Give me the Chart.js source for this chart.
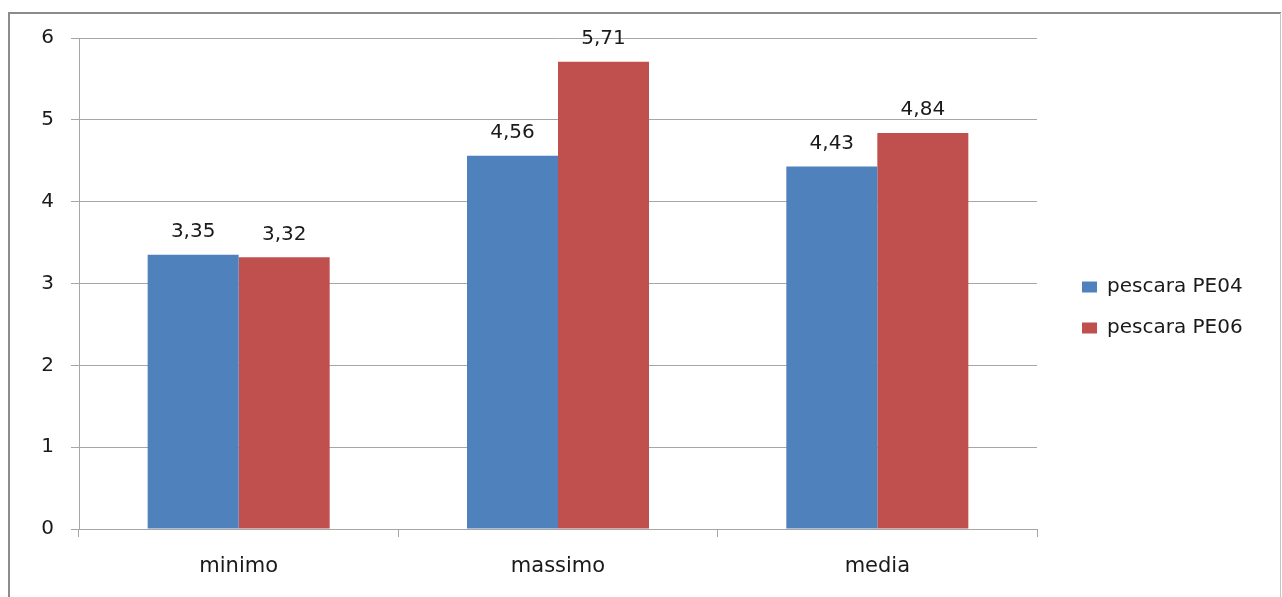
<!DOCTYPE html>
<html>
<head>
<meta charset="utf-8">
<script src="https://cdn.jsdelivr.net/npm/chart.js@4"></script>
<style>
  html, body { margin: 0; padding: 0; background: #fff; overflow: hidden; }
  #wrap { position: relative; width: 1282px; height: 597px; }
</style>
</head>
<body>
<div id="wrap"><canvas id="chart" width="1282" height="597"></canvas></div>
<script>
// data
const categories = ["minimo", "massimo", "media"];
const seriesNames = ["pescara PE04", "pescara PE06"];
const pe04 = [3.35, 4.56, 4.43];
const pe06 = [3.32, 5.71, 4.84];
const yMin = 0, yMax = 6, yStep = 1;

const textColor = "#1a1a1a";
const gridColor = "#a6a6a6";
const fontFamily = '"DejaVu Sans", sans-serif';

// frame around the whole chart
const framePlugin = {
    id: "frame",
    beforeDraw(chart) {
        const c = chart.ctx;
        c.save();
        c.lineWidth = 2;
        c.strokeStyle = "#8c8c8c";
        c.beginPath();
        c.moveTo(9, 597);
        c.lineTo(9, 13);
        c.lineTo(1281, 13);
        c.stroke();
        c.strokeStyle = "#c4c4c4";
        c.lineWidth = 1;
        c.beginPath();
        c.moveTo(1280.5, 13);
        c.lineTo(1280.5, 597);
        c.stroke();
        c.restore();
    }
};

// fixed legend width and position
const legendPlace = {
    id: "legendPlace",
    beforeInit(chart) {
        const legend = chart.legend;
        const fit = legend.fit;
        legend.fit = function () {
            fit.call(this);
            this.width = 245;
        };
    },
    afterLayout(chart) {
        const legend = chart.legend;
        legend.left = 1061;
        legend.right = legend.left + legend.width;
        legend.top = 256;
        legend.bottom = legend.top + legend.height;
    }
};

// value labels above bars
const valueLabels = {
    id: "valueLabels",
    afterDatasetsDraw(chart) {
        const c = chart.ctx;
        c.save();
        c.font = "20px " + fontFamily;
        c.fillStyle = textColor;
        c.textAlign = "center";
        c.textBaseline = "middle";
        chart.data.datasets.forEach((ds, i) => {
            chart.getDatasetMeta(i).data.forEach((bar, j) => {
                const txt = ds.data[j].toFixed(2).replace(".", ",");
                c.fillText(txt, bar.x, bar.y - 23);
            });
        });
        c.restore();
    }
};

new Chart(document.getElementById("chart"), {
    type: "bar",
    data: {
        labels: categories,
        datasets: [
            { label: seriesNames[0], data: pe04, backgroundColor: "#4f81bd" },
            { label: seriesNames[1], data: pe06, backgroundColor: "#c0504d" }
        ]
    },
    options: {
        responsive: false,
        animation: false,
        devicePixelRatio: 1,
        categoryPercentage: 0.57,
        barPercentage: 1,
        layout: { padding: { top: 38, right: 0, bottom: 0, left: 0 } },
        plugins: {
            tooltip: { enabled: false },
            legend: {
                position: "right",
                align: "start",
                labels: {
                    boxWidth: 15,
                    boxHeight: 11,
                    padding: 21,
                    color: textColor,
                    font: { family: fontFamily, size: 20 }
                }
            }
        },
        scales: {
            x: {
                grid: { drawOnChartArea: false, drawTicks: true, tickLength: 8, color: gridColor, offset: true },
                border: { color: gridColor },
                ticks: { color: textColor, padding: 17, font: { family: fontFamily, size: 21 } },
                afterFit(scale) { scale.height = 68; }
            },
            y: {
                min: yMin,
                max: yMax,
                grid: { color: gridColor, tickLength: 8 },
                border: { color: gridColor },
                ticks: { stepSize: yStep, color: textColor, padding: 17, font: { family: fontFamily, size: 20 } },
                afterFit(scale) { scale.width = 79; }
            }
        }
    },
    plugins: [framePlugin, legendPlace, valueLabels]
});
</script>
</body>
</html>
